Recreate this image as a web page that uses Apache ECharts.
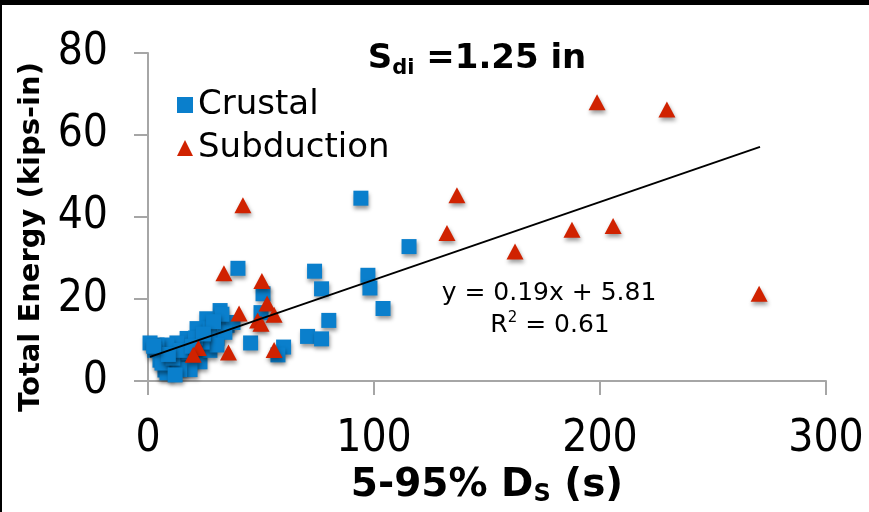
<!DOCTYPE html>
<html>
<head>
<meta charset="utf-8">
<script src="https://cdn.jsdelivr.net/npm/echarts@6/dist/echarts.min.js"></script>
<style>
  html, body { margin: 0; padding: 0; background: #fff; }
  #chart { width: 869px; height: 512px; }
</style>
</head>
<body>
<div id="chart"></div>
<script>
// Crustal records: [D5-95 (s), total energy (kips-in)]
const crustal = [
  [94.2, 44.6], [115.5, 32.8], [39.8, 27.5], [73.7, 26.8], [97.3, 25.8],
  [98.2, 22.7], [76.8, 22.5], [50.9, 21.3], [104, 17.7], [80, 14.8],
  [70.6, 10.9], [76.8, 10.3], [60, 8.3], [57.5, 6.4], [45.4, 9.3],
  [50, 16.7], [31.9, 17.2], [26, 15.2], [21.7, 12.8], [27.4, 12.8],
  [35, 13.6], [37.6, 14.3], [30.5, 10.4], [34, 11.9], [32.7, 16.3],
  [17.3, 10.4], [12.8, 9.3], [8.4, 8.8], [4, 8.8], [0.9, 9.3],
  [3, 7.5], [5.3, 5.1], [7.5, 2.7], [12, 4], [16.4, 3.5],
  [18.6, 5.2], [17.7, 6.9], [23, 4.7], [18.6, 2.8], [14, 2.8],
  [8.4, 2], [6.2, 4.4], [11, 5.6], [27.4, 7.5], [30.5, 8.8],
  [24, 9.5], [14.5, 7.5], [9, 6.5], [2.5, 8.5], [21, 10.5],
  [29, 14.5], [24.5, 11.5], [19.5, 8.5], [12, 1.5]
];

// Subduction records
const subduction = [
  [198.7, 68.0], [229.6, 66.2], [136.7, 45.3], [42, 42.9], [132.3, 36.1],
  [187.6, 36.9], [205.8, 37.8], [162.4, 31.6], [270.4, 21.3], [33.6, 26.3],
  [50.4, 24.4], [52.7, 18.9], [40.3, 16.5], [55.8, 16.2], [48.5, 14.8],
  [50, 14], [55.8, 7.6], [35.6, 7.0], [22.3, 8.1], [20, 6.4]
];

// linear trend line as drawn (y = 0.19x + 5.81), end points
const trendX = [0.9, 270.8];
const trendY = [5.9, 57.1];

const xTicks = [0, 100, 200, 300];
const yTicks = [0, 20, 40, 60, 80];

const BLUE = '#0a7fcc';
const RED = '#d02200';
const AXIS_GRAY = '#a6a6a6';
const LABEL_FONT = '"DejaVu Sans Condensed", "DejaVu Sans", sans-serif';
const TEXT_FONT = '"DejaVu Sans", sans-serif';

const chart = echarts.init(document.getElementById('chart'));

const markerShadow = {
  opacity: 1,
  shadowBlur: 4,
  shadowColor: 'rgba(0,0,0,0.4)',
  shadowOffsetX: 1,
  shadowOffsetY: 3
};

chart.setOption({
  animation: false,
  backgroundColor: '#fff',
  grid: { left: 148, right: 43, top: 53, bottom: 125.5, containLabel: false },
  title: {
    text: '{b|S}{s|di}{b| =1.25 in}',
    left: 472,
    top: 35,
    textAlign: 'center',
    textStyle: {
      rich: {
        b: { fontFamily: TEXT_FONT, fontWeight: 'bold', fontSize: 34, color: '#000' },
        s: { fontFamily: TEXT_FONT, fontWeight: 'bold', fontSize: 21, color: '#000', padding: [18, 0, 0, 0] }
      }
    }
  },
  legend: {
    orient: 'vertical',
    left: 172,
    top: 83,
    itemGap: 9,
    itemWidth: 16,
    itemHeight: 16,
    textStyle: { fontFamily: TEXT_FONT, fontSize: 34, color: '#000' },
    data: ['Crustal', 'Subduction']
  },
  xAxis: {
    type: 'value',
    min: 0,
    max: 300,
    interval: 100,
    name: '{b|5-95% D}{s|S}{b| (s)}',
    nameLocation: 'middle',
    nameGap: 77,
    nameTextStyle: {
      rich: {
        b: { fontFamily: TEXT_FONT, fontWeight: 'bold', fontSize: 39, color: '#000' },
        s: { fontFamily: TEXT_FONT, fontWeight: 'bold', fontSize: 24, color: '#000', padding: [19, 0, 0, 0] }
      }
    },
    axisLine: { show: true, onZero: false, lineStyle: { color: AXIS_GRAY, width: 2 } },
    axisTick: { show: true, inside: false, length: 14, lineStyle: { color: AXIS_GRAY, width: 2 } },
    axisLabel: {
      fontFamily: LABEL_FONT, fontSize: 44, color: '#000', margin: 36,
      formatter: v => xTicks.includes(v) ? String(v) : ''
    },
    splitLine: { show: false }
  },
  yAxis: {
    type: 'value',
    min: 0,
    max: 80,
    interval: 20,
    axisLine: { show: true, onZero: false, lineStyle: { color: AXIS_GRAY, width: 2 } },
    axisTick: { show: true, inside: false, length: 14, lineStyle: { color: AXIS_GRAY, width: 2 } },
    axisLabel: {
      fontFamily: LABEL_FONT, fontSize: 44, color: '#000', margin: 40,
      padding: [8, 0, 0, 0],
      formatter: v => yTicks.includes(v) ? String(v) : ''
    },
    splitLine: { show: false }
  },
  series: [
    {
      name: 'Crustal',
      type: 'scatter',
      symbol: 'rect',
      symbolSize: 15,
      itemStyle: Object.assign({ color: BLUE }, markerShadow),
      data: crustal,
      z: 3
    },
    {
      name: 'Subduction',
      type: 'scatter',
      symbol: 'triangle',
      symbolSize: [17, 16],
      itemStyle: Object.assign({ color: RED }, markerShadow),
      data: subduction,
      z: 4
    },
    {
      name: 'Trend',
      type: 'line',
      data: trendX.map((x, i) => [x, trendY[i]]),
      symbol: 'none',
      lineStyle: { color: '#000', width: 2 },
      z: 5,
      silent: true
    }
  ],
  graphic: [
    { type: 'rect', shape: { x: 0, y: 0, width: 869, height: 5 }, style: { fill: '#000' }, z: 100 },
    { type: 'rect', shape: { x: 0, y: 0, width: 2, height: 512 }, style: { fill: '#000' }, z: 100 },
    {
      // y axis title
      type: 'text', x: 31, y: 237, rotation: Math.PI / 2, z: 10,
      style: {
        text: 'Total Energy (kips-in)', fontFamily: TEXT_FONT, fontWeight: 'bold', fontSize: 29,
        fill: '#000', align: 'center', verticalAlign: 'middle'
      }
    },
    {
      type: 'text', x: 549, y: 293, z: 10,
      style: {
        text: 'y = 0.19x + 5.81', fontFamily: TEXT_FONT, fontSize: 25, fill: '#000',
        align: 'center', verticalAlign: 'middle'
      }
    },
    {
      type: 'text', x: 550, y: 325, z: 10,
      style: {
        text: '{n|R}{sup|2}{n| = 0.61}',
        align: 'center', verticalAlign: 'middle',
        rich: {
          n: { fontFamily: TEXT_FONT, fontSize: 25, fill: '#000' },
          sup: { fontFamily: TEXT_FONT, fontSize: 15, fill: '#000', padding: [0, 0, 14, 0] }
        }
      }
    }
  ]
});
</script>
</body>
</html>
